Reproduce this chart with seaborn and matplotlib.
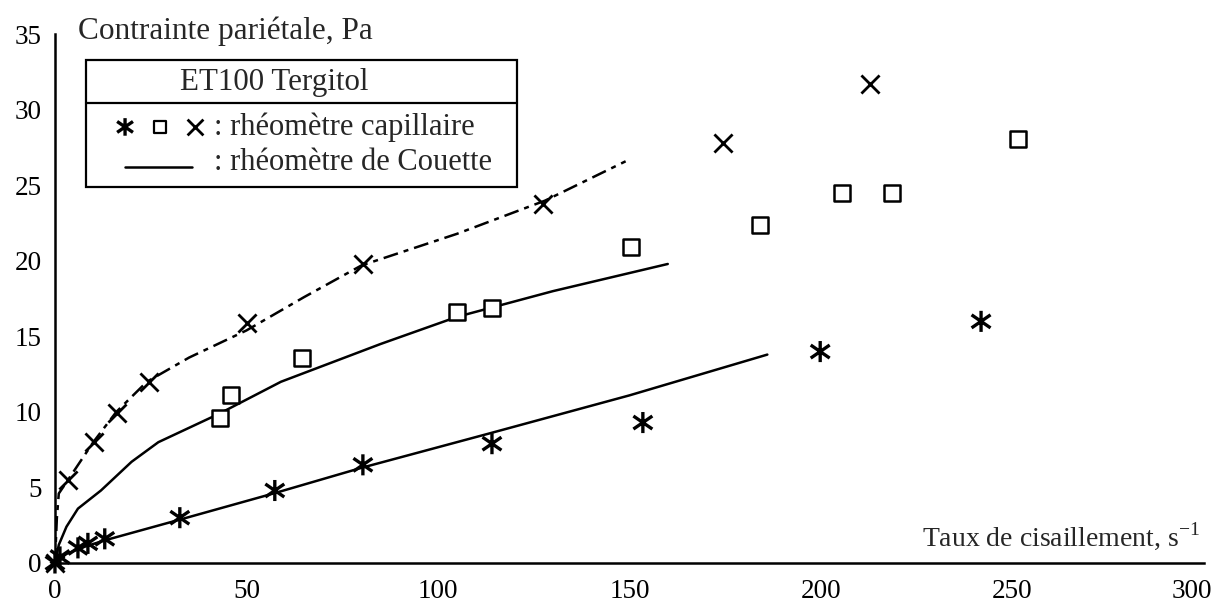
import matplotlib
matplotlib.use("Agg")
import matplotlib.pyplot as plt
from matplotlib.patches import Rectangle
from matplotlib.lines import Line2D
from matplotlib.path import Path
from matplotlib.transforms import ScaledTranslation
import numpy as np
import pandas as pd
import seaborn as sns

# Capillary rheometer measurements (three surfactant concentrations)
cross_x = [0, 3.4, 10.2, 16.2, 24.5, 50.1, 80.5, 127.5, 174.5, 212.8]
cross_y = [0, 5.5, 8.0, 9.9, 12.0, 15.9, 19.8, 23.8, 27.8, 31.7]

square_x = [43.1, 45.9, 64.5, 105.0, 114.1, 150.4, 184.0, 205.5, 218.5, 251.5]
square_y = [9.6, 11.1, 13.6, 16.6, 16.9, 20.9, 22.4, 24.5, 24.5, 28.1]

star_x = [0, 1.3, 6.0, 8.6, 13.0, 32.6, 57.4, 80.4, 114.1, 153.5, 199.8, 241.8]
star_y = [0, 0.4, 1.0, 1.3, 1.6, 3.0, 4.8, 6.5, 7.9, 9.3, 14.0, 16.0]

# Couette rheometer flow curves
couette_hi_x = [0, 0.5, 1.0, 3.4, 10.0, 16.0, 24.0, 35.0, 50.0, 65.0, 80.0, 105.0, 128.0, 149.0]
couette_hi_y = [0, 3.0, 4.6, 5.5, 8.0, 10.0, 12.0, 13.6, 15.4, 17.6, 19.7, 21.8, 24.0, 26.6]

couette_mid_x = [0, 1.0, 3.0, 6.0, 12.0, 20.0, 27.0, 43.0, 59.0, 85.0, 105.0, 130.0, 160.0]
couette_mid_y = [0, 1.2, 2.4, 3.6, 4.8, 6.7, 8.0, 9.9, 12.0, 14.5, 16.3, 18.0, 19.8]

couette_lo_x = [0, 3.0, 8.0, 13.0, 33.0, 57.0, 80.0, 113.0, 150.0, 186.0]
couette_lo_y = [0, 0.6, 1.1, 1.5, 2.9, 4.6, 6.3, 8.55, 11.1, 13.8]

x_ticks = [0, 50, 100, 150, 200, 250, 300]
y_ticks = [0, 5, 10, 15, 20, 25, 30, 35]

sns.set_style("white")
plt.rcParams["font.family"] = ["Liberation Serif", "DejaVu Serif"]
plt.rcParams["mathtext.fontset"] = "custom"
plt.rcParams["mathtext.rm"] = "Liberation Serif"

# Six-armed asterisk: a vertical stroke crossed by a wide "x"
asterisk = Path(
    [(0, -1), (0, 1), (-0.9, -0.62), (0.9, 0.62), (-0.9, 0.62), (0.9, -0.62)],
    [Path.MOVETO, Path.LINETO, Path.MOVETO, Path.LINETO, Path.MOVETO, Path.LINETO],
)

fig = plt.figure(figsize=(12.16, 6.02), dpi=100)
ax = fig.add_axes([0.0452, 0.0648, 0.9449, 0.878])

LW = 1.8
# Couette curves
sns.lineplot(x=couette_hi_x, y=couette_hi_y, ax=ax, color="black", lw=LW,
             sort=False, estimator=None, linestyle=(0, (6, 2.4, 2, 2.4)))
sns.lineplot(x=couette_mid_x, y=couette_mid_y, ax=ax, color="black", lw=LW,
             sort=False, estimator=None)
sns.lineplot(x=couette_lo_x, y=couette_lo_y, ax=ax, color="black", lw=LW,
             sort=False, estimator=None)

# Capillary points
sns.scatterplot(x=cross_x, y=cross_y, ax=ax, marker="x", s=170, color="black",
                edgecolor="black", linewidth=2.0, clip_on=False, zorder=5)
sns.scatterplot(x=square_x, y=square_y, ax=ax, marker="s", s=120, color="black",
                facecolor="white", edgecolor="black", linewidth=1.8,
                clip_on=False, zorder=5)
sns.scatterplot(x=star_x, y=star_y, ax=ax, marker=asterisk, s=230, color="black",
                facecolor="none", edgecolor="black", linewidth=2.4,
                clip_on=False, zorder=5)

ax.set_xlim(0, 300)
ax.set_ylim(0, 35)
ax.set_xticks(x_ticks)
ax.set_yticks(y_ticks)
ax.set_xticklabels([str(t) for t in x_ticks])
ax.set_yticklabels([str(t) for t in y_ticks])
ax.tick_params(direction="inout", length=11.5, width=1.6, labelsize=19.5,
               colors="black")
ax.tick_params(axis="x", pad=6)
ax.tick_params(axis="y", pad=4)
for side in ("top", "right"):
    ax.spines[side].set_visible(False)
for side in ("left", "bottom"):
    ax.spines[side].set_linewidth(1.8)
    ax.spines[side].set_color("black")
ax.set_xlabel("")
ax.set_ylabel("")

# Last x tick label sits slightly left of its tick
last = ax.get_xticklabels()[-1]
last.set_transform(last.get_transform()
                   + ScaledTranslation(-12 / 100, 0, fig.dpi_scale_trans))

# Axis titles placed inside the frame
ax.text(0.02, 1.006, "Contrainte pariétale, Pa", transform=ax.transAxes,
        ha="left", va="center", fontsize=22.5)
ax.text(0.9965, 0.05, r"Taux de cisaillement, s$^{\mathrm{-1}}$",
        transform=ax.transAxes, ha="right", va="center", fontsize=20)

# Framed legend with a header row
L, R, T, S, B = 0.027, 0.402, 0.952, 0.870, 0.711
ax.add_patch(Rectangle((L, B), R - L, T - B, transform=ax.transAxes,
                       fill=True, facecolor="white", edgecolor="black",
                       lw=1.6, zorder=6, clip_on=False))
ax.add_line(Line2D([L, R], [S, S], transform=ax.transAxes, color="black",
                   lw=1.6, zorder=7, clip_on=False))
ax.text(0.1906, 0.910, "ET100 Tergitol", transform=ax.transAxes,
        ha="center", va="center", fontsize=22.3, zorder=7)
row1, row2 = 0.825, 0.757
ax.scatter([0.061], [row1], transform=ax.transAxes, marker=asterisk, s=160,
           facecolor="none", edgecolor="black", linewidth=2.4, zorder=7,
           clip_on=False)
ax.scatter([0.0914], [row1], transform=ax.transAxes, marker="s", s=80,
           facecolor="white", edgecolor="black", linewidth=1.6, zorder=7,
           clip_on=False)
ax.scatter([0.1218], [row1], transform=ax.transAxes, marker="x", s=130,
           color="black", linewidth=2.0, zorder=7, clip_on=False)
ax.text(0.1385, row1, ": rhéomètre capillaire", transform=ax.transAxes,
        ha="left", va="center", fontsize=22, zorder=7)
ax.add_line(Line2D([0.061, 0.119], [0.749, 0.749], transform=ax.transAxes,
                   color="black", lw=1.8, zorder=7, clip_on=False))
ax.text(0.1385, row2, ": rhéomètre de Couette", transform=ax.transAxes,
        ha="left", va="center", fontsize=22, zorder=7)

fig.savefig("out.png", dpi=100, facecolor="white")
